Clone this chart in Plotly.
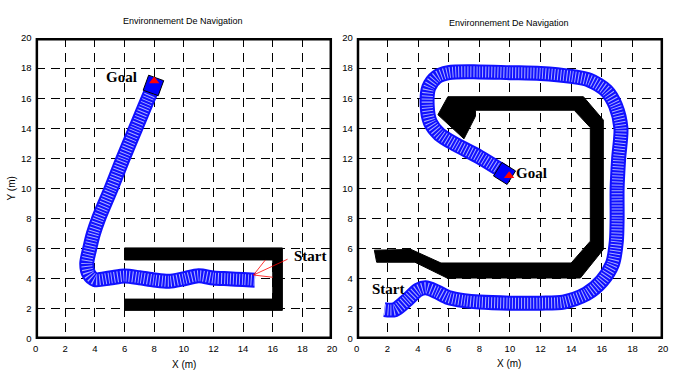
import plotly.graph_objects as go

# ---------------- data ----------------
ticks = [0, 2, 4, 6, 8, 10, 12, 14, 16, 18, 20]
title_text = "Environnement De Navigation"

# left scenario
left_obs_x = [6.0, 16.65, 16.65, 6.0, 6.0, 16.0, 16.0, 6.0, 6.0]
left_obs_y = [6.05, 6.05, 1.9, 1.9, 2.65, 2.65, 5.25, 5.25, 6.05]
left_path_x = [14.8, 14.0, 13.0, 12.0, 11.0, 10.0, 9.0, 8.0, 7.0, 6.0, 5.0, 4.0, 3.6, 3.45, 3.65, 3.9, 4.25, 5.1, 5.9, 6.75, 7.6, 7.95]
left_path_y = [3.9, 3.95, 4.0, 4.05, 4.2, 4.0, 3.83, 3.92, 4.07, 4.18, 4.05, 3.95, 4.3, 5.0, 6.0, 7.0, 8.0, 10.0, 12.0, 14.0, 16.0, 16.8]
left_goal = (7.95, 16.85)
left_goal_mark = (8.0, 17.15)
left_start_lines_x = [[14.7, 15.5], [14.7, 17.0], [14.7, 16.0]]
left_start_lines_y = [[4.25, 5.25], [4.25, 5.3], [4.25, 4.1]]

# right scenario
right_obs_x = [5.95, 14.8, 16.1, 16.1, 14.6, 5.9, 3.8, 1.3, 1.15, 3.55, 5.5, 14.0, 15.25, 15.25, 14.2, 7.75, 7.75, 7.0, 5.3, 5.95]
right_obs_y = [16.1, 16.1, 14.55, 5.95, 4.05, 4.05, 5.1, 5.1, 5.9, 5.95, 5.05, 5.05, 6.5, 14.05, 15.2, 15.2, 14.8, 13.3, 14.9, 16.1]
right_path_x = [1.8, 2.5, 3.3, 4.0, 4.5, 5.2, 6.0, 7.0, 8.0, 10.0, 12.0, 13.5, 15.0, 16.0, 16.7, 16.95, 17.0, 17.0, 17.1, 17.25, 16.9, 16.3, 15.2, 14.0, 12.0, 10.0, 8.0, 6.0, 5.2, 4.7, 4.6, 4.8, 5.4, 6.5, 8.0, 9.6]
right_path_y = [1.95, 1.95, 2.6, 3.25, 3.4, 3.15, 2.75, 2.55, 2.45, 2.38, 2.38, 2.45, 3.0, 3.85, 5.0, 6.5, 8.0, 10.0, 12.0, 14.0, 15.5, 16.5, 17.2, 17.45, 17.65, 17.7, 17.75, 17.7, 17.4, 16.7, 15.5, 14.4, 13.6, 12.9, 12.1, 11.1]
right_goal = (9.65, 11.0)
right_goal_mark = (9.95, 10.85)

# ---------------- figure ----------------
fig = go.Figure()

W, H = 673, 376
def dom_x(p0, p1):
    return [p0 / W, p1 / W]
dom_y = [1 - 343 / H, 1 - 33 / H]


def add_panel(xa, ya, obs_x, obs_y, px, py, goal, gmark, gangle):
    fig.add_trace(go.Scatter(x=obs_x, y=obs_y, xaxis=xa, yaxis=ya, mode="lines",
                             fill="toself", fillcolor="black",
                             line=dict(color="black", width=1), hoverinfo="skip"))
    fig.add_trace(go.Scatter(x=px, y=py, xaxis=xa, yaxis=ya, mode="lines",
                             line=dict(color="#1010ff", width=15, shape="spline", smoothing=0.8),
                             hoverinfo="skip"))
    fig.add_trace(go.Scatter(x=px, y=py, xaxis=xa, yaxis=ya, mode="lines",
                             line=dict(color="rgba(235,240,255,0.7)", width=11, shape="spline",
                                       smoothing=0.8, dash="1px,2px"),
                             hoverinfo="skip"))
    fig.add_trace(go.Scatter(x=[goal[0]], y=[goal[1]], xaxis=xa, yaxis=ya, mode="markers",
                             marker=dict(symbol="square", size=16, color="#0000ff", angle=gangle,
                                         line=dict(color="black", width=1)), hoverinfo="skip"))
    fig.add_trace(go.Scatter(x=[gmark[0]], y=[gmark[1]], xaxis=xa, yaxis=ya, mode="markers",
                             marker=dict(symbol="triangle-up", size=9, color="red",
                                         line=dict(color="red", width=0)), hoverinfo="skip"))


add_panel("x", "y", left_obs_x, left_obs_y, left_path_x, left_path_y, left_goal, left_goal_mark, 20)
add_panel("x2", "y2", right_obs_x, right_obs_y, right_path_x, right_path_y, right_goal, right_goal_mark, 32)

for lx, ly in zip(left_start_lines_x, left_start_lines_y):
    fig.add_trace(go.Scatter(x=lx, y=ly, xaxis="x", yaxis="y", mode="lines",
                             line=dict(color="red", width=0.8), hoverinfo="skip"))

axis_common = dict(range=[0, 20], tickvals=ticks, showgrid=True, gridcolor="black",
                   gridwidth=1, griddash="9px,6px", zeroline=False, showline=False,
                   ticks="", tickfont=dict(family="Liberation Sans", size=9.5, color="black"),
                   fixedrange=True, ticklabelstandoff=3)

fig.update_layout(
    width=W, height=H,
    margin=dict(l=0, r=0, t=0, b=0),
    paper_bgcolor="white", plot_bgcolor="white",
    showlegend=False,
    xaxis=dict(domain=dom_x(33, 333), anchor="y", **axis_common),
    yaxis=dict(domain=dom_y, anchor="x", **axis_common),
    xaxis2=dict(domain=dom_x(358, 668), anchor="y2", **axis_common),
    yaxis2=dict(domain=dom_y, anchor="x2", **axis_common),
)

# thick frames
for xr, yr in (("x", "y"), ("x2", "y2")):
    fig.add_shape(type="rect", xref=xr, yref=yr, x0=0, x1=20, y0=0, y1=20,
                  line=dict(color="black", width=5), fillcolor="rgba(0,0,0,0)", layer="above")

tfont = dict(family="Liberation Sans", size=9, color="black")
lfont = dict(family="Liberation Sans", size=10, color="black")
sfont = dict(family="Liberation Serif", size=15, color="black", weight="bold")

ann = [
    dict(text=title_text, x=182 / W, y=1 - 15 / H, font=tfont),
    dict(text=title_text, x=512 / W, y=1 - 17 / H, font=tfont),
    dict(text="X (m)", x=183 / W, y=1 - 369 / H, font=lfont),
    dict(text="X (m)", x=512 / W, y=1 - 368 / H, font=lfont),
    dict(text="Y (m)", x=9 / W, y=1 - 188 / H, font=lfont, textangle=-90),
]
for a in ann:
    fig.add_annotation(xref="paper", yref="paper", showarrow=False,
                       xanchor="center", yanchor="middle", **a)

fig.add_annotation(xref="x", yref="y", x=5.8, y=17.4, text="Goal", showarrow=False,
                   xanchor="center", yanchor="middle", font=sfont)
fig.add_annotation(xref="x", yref="y", x=17.3, y=5.5, text="Start", showarrow=False,
                   xanchor="left", yanchor="middle", font=sfont)
fig.add_annotation(xref="x2", yref="y2", x=10.3, y=11.05, text="Goal", showarrow=False,
                   xanchor="left", yanchor="middle", font=sfont)
fig.add_annotation(xref="x2", yref="y2", x=0.85, y=3.3, text="Start", showarrow=False,
                   xanchor="left", yanchor="middle", font=sfont)

fig.write_html("out.html")
